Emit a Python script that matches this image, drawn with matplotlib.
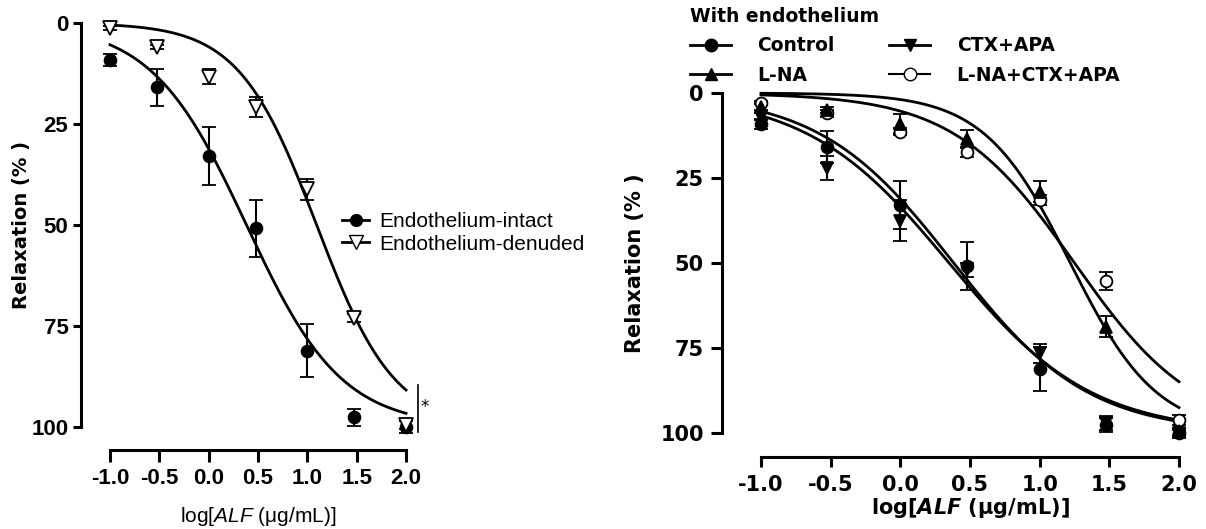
import numpy as np
import matplotlib
matplotlib.use('Agg')
import matplotlib.pyplot as plt
from matplotlib.lines import Line2D

plt.rcParams['mathtext.fontset'] = 'custom'
plt.rcParams['mathtext.it'] = 'Liberation Sans:italic'
plt.rcParams['mathtext.bfit'] = 'DejaVu Sans:italic:bold'

NARROW = 'Liberation Sans'
BOLD = 'DejaVu Sans'

# concentrations of ALF (ug/mL) -> log scale
conc = [0.1, 0.3, 1, 3, 10, 30, 100]
logc = np.log10(conc)

xtick_vals = [-1.0, -0.5, 0.0, 0.5, 1.0, 1.5, 2.0]
xtick_labels = ['-1.0', '-0.5', '0.0', '0.5', '1.0', '1.5', '2.0']
ytick_vals = [0, 25, 50, 75, 100]
ytick_labels = ['0', '25', '50', '75', '100']

# left panel: relaxation (%) mean and SEM
intact = [9.2, 15.9, 32.9, 50.8, 81.1, 97.6, 99.9]
intact_sem = [1.5, 4.6, 7.1, 7.1, 6.5, 2.1, 1.5]
denuded = [1.3, 5.9, 13.3, 20.7, 41.2, 73.1, 99.5]
denuded_sem = [0.5, 0.5, 1.8, 2.5, 2.5, 1.0, 1.0]

# right panel (with endothelium)
control = intact
control_sem = intact_sem
lna = [4.0, 5.0, 9.0, 13.6, 29.0, 68.7, 99.5]
lna_sem = [1.0, 1.0, 2.7, 2.7, 3.0, 3.0, 1.0]
ctx_apa = [7.0, 22.0, 37.5, 52.0, 76.5, 97.0, 100.0]
ctx_apa_sem = [1.0, 3.5, 6.0, 2.0, 2.8, 2.0, 1.0]
lna_ctx = [2.8, 6.0, 11.4, 17.3, 31.5, 55.3, 96.2]
lna_ctx_sem = [0.5, 1.0, 1.0, 1.5, 1.5, 2.7, 1.5]

# fitted sigmoid parameters (logEC50, Hill slope)
fit_intact = (0.383, 0.90)
fit_denuded = (1.094, 1.10)
fit_ctx = (0.35, 0.85)
fit_lna = (1.22, 1.40)
fit_lna_ctx = (1.25, 1.00)


def hill(x, ec50, h):
    return 100 / (1 + 10 ** ((ec50 - x) * h))


xs = np.linspace(-1, 2, 300)


def series(ax, y, sem, fit, marker, mfc, ms):
    ax.plot(xs, hill(xs, *fit), color='black', lw=2.0, clip_on=False, zorder=2)
    eb = ax.errorbar(logc, y, yerr=sem, fmt=marker, ms=ms, mfc=mfc, mec='black',
                     mew=1.3, ecolor='black', elinewidth=1.5, capsize=5, capthick=1.5,
                     zorder=3)
    for a in eb.get_children():
        a.set_clip_on(False)


def style(ax, xlo, ybot, family, weight, size, ylen, xlen, ypad, xpad):
    ax.set_xlim(xlo, 2.1)
    ax.set_ylim(ybot, -3)
    ax.spines['top'].set_visible(False)
    ax.spines['right'].set_visible(False)
    ax.spines['left'].set_bounds(0, 100)
    ax.spines['bottom'].set_bounds(-1, 2)
    ax.spines['left'].set_linewidth(2.2)
    ax.spines['bottom'].set_linewidth(2.2)
    ax.set_xticks(xtick_vals, labels=xtick_labels)
    ax.set_yticks(ytick_vals, labels=ytick_labels)
    ax.tick_params(axis='y', length=ylen, width=2.2, pad=ypad)
    ax.tick_params(axis='x', length=xlen, width=2.2, pad=xpad)
    for t in ax.get_xticklabels() + ax.get_yticklabels():
        t.set_family(family)
        t.set_weight(weight)
        t.set_size(size)


fig = plt.figure(figsize=(12.06, 5.29), dpi=100)

# ---------- left panel ----------
ax1 = fig.add_axes([0.06716, 0.15028, 0.2777, 0.82912])
series(ax1, intact, intact_sem, fit_intact, 'o', 'black', 8.5)
series(ax1, denuded, denuded_sem, fit_denuded, 'v', 'white', 9.5)
style(ax1, -1.294, 105.57, NARROW, 'bold', 16, 6, 8.5, 3, 5)
ax1.set_ylabel('Relaxation (% )', family=BOLD, weight='bold', fontsize=14)
ax1.yaxis.set_label_coords(31 / 1206, 1 - 225 / 529, transform=fig.transFigure)
ax1.set_xlabel(r'log[$\mathit{ALF}$ (μg/mL)]', family=NARROW, fontsize=15)
ax1.xaxis.set_label_coords(258 / 1206, 1 - 516 / 529, transform=fig.transFigure)
ax1.xaxis.label.set_va('center')

# significance bracket
ax1.plot([2.12, 2.12], [89.6, 101.2], color='black', lw=1.2, clip_on=False)
ax1.text(2.15, 95, '*', fontsize=12, ha='left', va='center')

h_int = Line2D([], [], color='black', lw=2.0, marker='o', ms=8.5, mfc='black', mec='black')
h_den = Line2D([], [], color='black', lw=2.0, marker='v', ms=9.5, mfc='white', mec='black')
ax1.legend([h_int, h_den], ['Endothelium-intact', 'Endothelium-denuded'],
           loc='center left', bbox_to_anchor=(342 / 1206, 1 - 233 / 529),
           bbox_transform=fig.transFigure, frameon=False, borderpad=0, borderaxespad=0,
           handlelength=1.3, handletextpad=0.5, labelspacing=0.15,
           prop={'family': NARROW, 'size': 15})

# ---------- right panel ----------
ax2 = fig.add_axes([0.59867, 0.13705, 0.39047, 0.70643])
series(ax2, lna_ctx, lna_ctx_sem, fit_lna_ctx, 'o', 'white', 8.5)
series(ax2, lna, lna_sem, fit_lna, '^', 'black', 9)
series(ax2, ctx_apa, ctx_apa_sem, fit_ctx, 'v', 'black', 9)
series(ax2, control, control_sem, fit_intact, 'o', 'black', 8.5)
style(ax2, -1.28, 106.91, BOLD, 'bold', 15, 8, 7.5, 5, 6)
ax2.set_ylabel('Relaxation (% )', family=BOLD, weight='bold', fontsize=15)
ax2.yaxis.set_label_coords(645 / 1206, 1 - 263 / 529, transform=fig.transFigure)
ax2.set_xlabel(r'log[$\mathbfit{ALF}$ (μg/mL)]', family=BOLD, weight='bold', fontsize=15)
ax2.xaxis.set_label_coords(970 / 1206, 1 - 508 / 529, transform=fig.transFigure)
ax2.xaxis.label.set_va('center')

handles = [
    Line2D([], [], color='black', lw=2.0, marker='o', ms=9, mfc='black', mec='black'),
    Line2D([], [], color='black', lw=2.0, marker='^', ms=9, mfc='black', mec='black'),
    Line2D([], [], color='black', lw=2.0, marker='v', ms=9, mfc='black', mec='black'),
    Line2D([], [], color='black', lw=1.5, marker='o', ms=9, mfc='white', mec='black'),
]
labels = ['Control', 'L-NA', 'CTX+APA', 'L-NA+CTX+APA']
leg = ax2.legend(handles, labels, ncol=2, title='With endothelium', alignment='left',
                 loc='upper left', bbox_to_anchor=(690 / 1206, 1 - 7 / 529),
                 bbox_transform=fig.transFigure, frameon=False, borderpad=0,
                 borderaxespad=0, handlelength=2.2, handletextpad=1.4,
                 labelspacing=0.55, columnspacing=2.9,
                 prop={'family': BOLD, 'weight': 'bold', 'size': 13.5},
                 title_fontproperties={'family': BOLD, 'weight': 'bold', 'size': 13.5})

fig.savefig('out.png', dpi=100)
